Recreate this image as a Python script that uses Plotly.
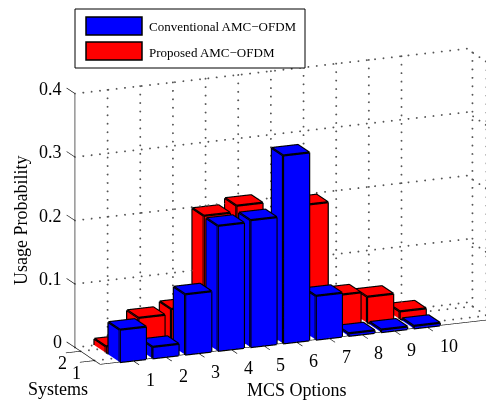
import math
import plotly.graph_objects as go

mcs_options = [1, 2, 3, 4, 5, 6, 7, 8, 9, 10]
system_rows = [1, 2]
conventional = [0.051, 0.018, 0.095, 0.197, 0.200, 0.296, 0.069, 0.004, 0.004, 0.004]
proposed = [0.010, 0.049, 0.057, 0.198, 0.208, 0.170, 0.197, 0.049, 0.041, 0.012]
z_ticks = [0, 0.1, 0.2, 0.3, 0.4]
z_tick_labels = ["0", "0.1", "0.2", "0.3", "0.4"]
series_names = ["Conventional AMC\u2212OFDM", "Proposed AMC\u2212OFDM"]

XMAX = 12
YMIN, YMAX = 0.6, 2.4
ZMAX = 0.4
HW = 0.4
FONT = "Liberation Serif"
# the scene box is a little larger than the axes so the tick stubs are not clipped
XR = (-0.6, XMAX)
YR = (0.1, 3.05)
ZR = (0, ZMAX)

W, H = 486, 403
UX = (32.4, 3.71)
UY = (-13.9, 9.2)
UZ = 630.0
ORIGIN = (101.3, 363.0)


def project(x, y, z):
    return (ORIGIN[0] + UX[0] * x + UY[0] * (y - YMIN),
            ORIGIN[1] - UX[1] * x - UY[1] * (y - YMIN) - UZ * z)


theta = math.radians(-22.5)
phi = math.radians(16.06)
s, cphi = math.sin(phi), math.cos(phi)
r = (math.cos(theta), math.sin(theta), 0)
v = (-math.sin(theta) * s, math.cos(theta) * s, cphi)
e = (math.sin(theta) * cphi, -math.cos(theta) * cphi, s)
DIST = 4.0
PXU = 200.0
mid = project(sum(XR) / 2, sum(YR) / 2, sum(ZR) / 2)
OFF_R, OFF_U = mid[0] - W / 2, H / 2 - mid[1]
c = [-(OFF_R / PXU) * r[i] - (OFF_U / PXU) * v[i] for i in range(3)]
eye = [c[i] + DIST * e[i] for i in range(3)]
ASPECT = dict(x=(4.21 / 2) * (XR[1] - XR[0]) / 12,
              y=(0.655 / 2) * (YR[1] - YR[0]) / 1.8,
              z=(2.622 / 2) * (ZR[1] - ZR[0]) / 0.4)


def bars(vals, yc, color):
    xs, ys, zs, I, J, K = [], [], [], [], [], []
    lx, ly, lz = [], [], []
    for xc, h in zip(mcs_options, vals):
        x0, x1, y0, y1 = xc - HW, xc + HW, yc - HW, yc + HW
        n = len(xs)
        xs += [x0, x1, x1, x0, x0, x1, x1, x0]
        ys += [y0, y0, y1, y1, y0, y0, y1, y1]
        zs += [0, 0, 0, 0, h, h, h, h]
        quads = [(0, 1, 2, 3), (4, 5, 6, 7), (0, 1, 5, 4), (1, 2, 6, 5), (2, 3, 7, 6), (3, 0, 4, 7)]
        for a, b, cc, d in quads:
            I += [n + a, n + a]
            J += [n + b, n + cc]
            K += [n + cc, n + d]
        for loop in [[x0, y0, h], [x1, y0, h], [x1, y1, h], [x0, y1, h], [x0, y0, h]]:
            lx.append(loop[0]); ly.append(loop[1]); lz.append(loop[2])
        lx.append(None); ly.append(None); lz.append(None)
        for px_, py_ in [(x0, y0), (x1, y0), (x0, y1), (x1, y1)]:
            lx += [px_, px_, None]; ly += [py_, py_, None]; lz += [0, h, None]
        lx += [x0, x1, None, x1, x1, None]; ly += [y0, y0, None, y0, y1, None]; lz += [0, 0, None, 0, 0, None]
    mesh = go.Mesh3d(x=xs, y=ys, z=zs, i=I, j=J, k=K, color=color, flatshading=True,
                     lighting=dict(ambient=1, diffuse=0, specular=0, fresnel=0, roughness=1),
                     hoverinfo="skip", showscale=False)
    edge = go.Scatter3d(x=lx, y=ly, z=lz, mode="lines", line=dict(color="black", width=4.5),
                        hoverinfo="skip", showlegend=False)
    return [mesh, edge]


def seglines(segs, width, color="black"):
    lx, ly, lz = [], [], []
    for (a, b) in segs:
        lx += [a[0], b[0], None]; ly += [a[1], b[1], None]; lz += [a[2], b[2], None]
    return go.Scatter3d(x=lx, y=ly, z=lz, mode="lines", line=dict(color=color, width=width),
                        hoverinfo="skip", showlegend=False)


def dotted(segs, step_px=8.3):
    # dotted grid rules: one small marker every few pixels along each rule
    lx, ly, lz = [], [], []
    for (a, b) in segs:
        pa, pb = project(*a), project(*b)
        n = max(1, int(round(math.hypot(pb[0] - pa[0], pb[1] - pa[1]) / step_px)))
        for k in range(n + 1):
            f = k / n
            lx.append(a[0] + (b[0] - a[0]) * f)
            ly.append(a[1] + (b[1] - a[1]) * f)
            lz.append(a[2] + (b[2] - a[2]) * f)
    return go.Scatter3d(x=lx, y=ly, z=lz, mode="markers",
                        marker=dict(color="#555555", size=1.1, line=dict(width=0)),
                        hoverinfo="skip", showlegend=False)


grid = []
for zt in z_ticks[1:]:
    grid.append(((0, YMAX, zt), (XMAX, YMAX, zt)))
    grid.append(((XMAX, YMAX, zt), (XMAX, YMIN, zt)))
grid.append(((0, YMAX, 0), (XMAX, YMAX, 0)))
grid.append(((XMAX, YMAX, 0), (XMAX, YMIN, 0)))
for xt in mcs_options:
    grid.append(((xt, YMAX, 0), (xt, YMAX, ZMAX)))
    grid.append(((xt, YMIN, 0), (xt, YMAX, 0)))
for yt in system_rows:
    grid.append(((XMAX, yt, 0), (XMAX, yt, ZMAX)))
    grid.append(((0, yt, 0), (XMAX, yt, 0)))

axes = [((0, YMIN, 0), (XMAX, YMIN, 0)), ((0, YMIN, 0), (0, YMAX, 0)), ((0, YMAX, 0), (0, YMAX, ZMAX))]
for xt in mcs_options:
    axes.append(((xt, YMIN, 0), (xt, YMIN - 0.45, 0)))
for yt in system_rows:
    axes.append(((0, yt, 0), (-0.45, yt, 0)))
for zt in z_ticks:
    axes.append(((0, YMAX, zt), (0, YMAX + 0.6, zt)))

traces = [dotted(grid), seglines(axes, 1.2)]
traces += bars(proposed, system_rows[1], "#ff0000")
traces += bars(conventional, system_rows[0], "#0000ff")

ann = []
tf = dict(family=FONT, size=18, color="black")
for xt in mcs_options:
    ann.append(dict(x=xt, y=YMIN, z=0, text=str(xt), showarrow=False, xanchor="left", xshift=11, yshift=-19, font=tf))
for yt in system_rows:
    ann.append(dict(x=0, y=yt, z=0, text=str(yt), showarrow=False, xshift=-18, yshift=-12, font=tf))
for zt, lab in zip(z_ticks, z_tick_labels):
    ann.append(dict(x=0, y=YMAX, z=zt, text=lab, showarrow=False, xanchor="right", xshift=-11, yshift=5, font=tf))

axis_off = dict(visible=False, showgrid=False, zeroline=False, showline=False, showticklabels=False,
                showbackground=False, showspikes=False)

fig = go.Figure(traces)
fig.update_layout(
    width=W, height=H, margin=dict(l=0, r=0, t=0, b=0), paper_bgcolor="white", showlegend=False,
    scene=dict(
        domain=dict(x=[0, 1], y=[0, 1]),
        xaxis=dict(range=list(XR), **axis_off),
        yaxis=dict(range=list(YR), **axis_off),
        zaxis=dict(range=list(ZR), **axis_off),
        aspectmode="manual",
        aspectratio=ASPECT,
        camera=dict(projection=dict(type="orthographic"),
                    eye=dict(x=eye[0], y=eye[1], z=eye[2]),
                    center=dict(x=c[0], y=c[1], z=c[2]),
                    up=dict(x=0, y=0, z=1)),
        annotations=ann,
    ),
)


def py(p):
    return 1 - p / H


def px(p):
    return p / W


shapes = [
    dict(type="rect", xref="paper", yref="paper", x0=px(75), x1=px(305), y0=py(9), y1=py(68),
         line=dict(color="black", width=1), fillcolor="white"),
    dict(type="rect", xref="paper", yref="paper", x0=px(86), x1=px(142), y0=py(17), y1=py(35),
         line=dict(color="black", width=1.5), fillcolor="#0000ff"),
    dict(type="rect", xref="paper", yref="paper", x0=px(86), x1=px(142), y0=py(42), y1=py(60),
         line=dict(color="black", width=1.5), fillcolor="#ff0000"),
]
fig.update_layout(shapes=shapes)
paper_text = [
    (147, 27, series_names[0], 13),
    (147, 52, series_names[1], 13),
]
annots = [dict(xref="paper", yref="paper", x=px(a), y=py(b), text=t, showarrow=False, xanchor="left",
               yanchor="middle", font=dict(family=FONT, size=sz, color="black")) for a, b, t, sz in paper_text]
annots.append(dict(xref="paper", yref="paper", x=px(21), y=py(221), text="Usage Probability", textangle=-90,
                   showarrow=False, xanchor="center", yanchor="middle", font=dict(family=FONT, size=18, color="black")))
annots.append(dict(xref="paper", yref="paper", x=px(58), y=py(389), text="Systems", xanchor="center", yanchor="middle",
                   showarrow=False, font=dict(family=FONT, size=18, color="black")))
annots.append(dict(xref="paper", yref="paper", x=px(297), y=py(390), text="MCS Options", xanchor="center", yanchor="middle",
                   showarrow=False, font=dict(family=FONT, size=18, color="black")))
fig.update_layout(annotations=annots)

fig.write_html("out.html", config=dict(displayModeBar=False),
               post_script="document.body.style.margin='0';document.documentElement.style.overflow='hidden';")
